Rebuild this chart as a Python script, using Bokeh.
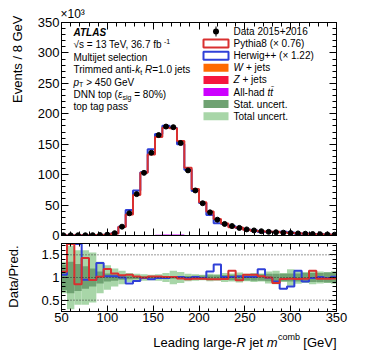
import numpy as np
from bokeh.plotting import figure
from bokeh.layouts import column, row
from bokeh.models import Range1d, LinearAxis, Label, Span, FixedTicker, BoxAnnotation
from bokeh.embed import file_html
from bokeh.resources import INLINE

# ---------------- data (events in units of 10^3) ----------------
mass_centers = [52, 60, 68, 76, 84, 92, 100, 108, 116, 124, 132, 140, 148, 156, 164, 172,
                180, 188, 196, 204, 212, 220, 228, 236, 244, 252, 260, 268, 276, 284, 292,
                300, 308, 316, 324, 332, 340, 348]
bin_width = 8
data = [0.35, 0.30, 0.35, 0.40, 0.50, 0.70, 1.4, 3.8, 14.5, 36.5, 68, 103, 136, 165, 179, 178,
        152, 107, 74, 53, 38, 26, 19, 15.5, 12.5, 10.0, 8.3, 7.0, 6.0, 5.3, 4.7,
        4.0, 3.4, 2.9, 2.4, 2.1, 1.7, 1.4]
pythia = [0.31, 0.15, 0.41, 0.28, 0.53, 0.69, 1.18, 3.49, 13.8, 34.4, 66.7, 103, 133.3, 161.8, 177.2, 176.2,
          155.1, 111.5, 76.3, 54.6, 39.6, 27.1, 19.6, 13.5, 13.3, 9.43, 7.83, 6.80, 6.00, 6.02, 4.85,
          4.12, 3.51, 2.99, 2.09, 2.16, 1.75, 1.43]
herwig = [0.33, 0.15, 0.17, 0.42, 0.53, 0.53, 1.36, 3.69, 14.5, 42.0, 73.9, 104, 141.7, 166.7, 180.5, 176.5,
          150, 108, 73.3, 53.5, 33.6, 20.2, 18.8, 15.3, 12.25, 9.9, 8.2, 5.93, 6.05, 5.82, 6.27,
          5.0, 2.96, 3.19, 2.43, 2.08, 1.72, 1.38]
w_jets = [0, 0, 0.02, 0.05, 0.08, 0.06, 0.04, 0.03, 0.02, 0.02, 0.01, 0.01, 0.01, 0.01, 0.01, 0.01,
          0.01, 0.01, 0.01, 0, 0, 0, 0, 0, 0, 0, 0, 0, 0, 0, 0, 0, 0, 0, 0, 0, 0, 0]
z_jets = [0, 0, 0, 0.01, 0.02, 0.05, 0.04, 0.03, 0.02, 0.01, 0.01, 0.01, 0.01, 0, 0, 0,
          0, 0, 0, 0, 0, 0, 0, 0, 0, 0, 0, 0, 0, 0, 0, 0, 0, 0, 0, 0, 0, 0]
ttbar = [0, 0, 0, 0, 0, 0.01, 0.02, 0.05, 0.1, 0.2, 0.35, 0.6, 1.0, 1.4, 1.7, 1.8,
         1.5, 1.0, 0.6, 0.4, 0.3, 0.2, 0.15, 0.12, 0.1, 0.08, 0.07, 0.06, 0.05, 0.04, 0.04,
         0.03, 0.03, 0.02, 0.02, 0.02, 0.01, 0.01]
stat_unc = [0.28, 0.35, 0.30, 0.25, 0.20, 0.13, 0.09, 0.07, 0.05, 0.04, 0.035, 0.03, 0.03, 0.025, 0.025, 0.03,
            0.03, 0.035, 0.04, 0.045, 0.05, 0.05, 0.055, 0.06, 0.06, 0.065, 0.07, 0.07, 0.08, 0.08, 0.085,
            0.09, 0.09, 0.10, 0.10, 0.10, 0.11, 0.11]
total_unc = [0.35, 0.70, 0.60, 0.60, 0.55, 0.35, 0.27, 0.20, 0.15, 0.10, 0.08, 0.07, 0.06, 0.07, 0.10, 0.15,
             0.12, 0.08, 0.07, 0.06, 0.08, 0.07, 0.10, 0.09, 0.11, 0.08, 0.10, 0.09, 0.13, 0.15, 0.10,
             0.18, 0.14, 0.12, 0.15, 0.13, 0.12, 0.14]

x_ticks = [50, 100, 150, 200, 250, 300, 350]
x_minor = list(range(50, 351, 10))
y_ticks_main = [0, 50, 100, 150, 200, 250, 300, 350]
y_minor_main = list(range(0, 351, 10))
ratio_ticks = [0.5, 1.0, 1.5]
ratio_minor = [round(0.3 + 0.1 * i, 1) for i in range(15)]

FONT = "Liberation Sans"
RED = "#d93030"
BLUE = "#3040d8"
ORANGE = "#ff6a00"
ZRED = "#f5163f"
MAGENTA = "#cc00ff"
DARKG = "#6fa272"
LIGHTG = "#a8d6a8"

c = np.array(mass_centers, float)
lo = c - bin_width / 2
hi = c + bin_width / 2
edges = np.append(lo, hi[-1])
d = np.array(data)
py = np.array(pythia)
hw = np.array(herwig)


def step_vals(v):
    v = np.asarray(v, float)
    return np.append(v, v[-1])


def cfg_axis(ax, ticks, minor, major_in, minor_in, labels, size="13px"):
    ax.ticker = FixedTicker(ticks=ticks, minor_ticks=minor)
    ax.major_tick_in = major_in
    ax.major_tick_out = 0
    ax.minor_tick_in = minor_in
    ax.minor_tick_out = 0
    ax.axis_line_color = "black"
    ax.major_tick_line_color = "black"
    ax.minor_tick_line_color = "black"
    ax.axis_label = None
    if labels:
        ax.major_label_text_font = FONT
        ax.major_label_text_font_size = size
        ax.major_label_text_color = "black"
        ax.major_label_standoff = 2
    else:
        ax.major_label_text_font_size = "0px"
        ax.major_label_standoff = 0
        ax.major_label_overrides = {t: "" for t in ticks}


def lab(p, x, y, text, size, style="normal", align="left", baseline="middle", angle=0.0):
    p.add_layout(Label(x=x, y=y, x_units="screen", y_units="screen", text=text,
                       text_font=FONT, text_font_size=f"{size}px", text_font_style=style,
                       text_align=align, text_baseline=baseline, angle=angle, text_color="black"))


def box(p, l, r, b, t, fill, line=None, lw=1, radius=0):
    p.add_layout(BoxAnnotation(left=l, right=r, bottom=b, top=t, left_units="screen",
                               right_units="screen", bottom_units="screen", top_units="screen",
                               fill_color=fill, fill_alpha=1.0,
                               line_color=line, line_alpha=1.0, line_width=lw,
                               border_radius=radius))


def blank(w, h):
    f = figure(width=w, height=h, x_range=Range1d(0, 1), y_range=Range1d(0, 1),
               output_backend="svg", toolbar_location=None, x_axis_location=None,
               y_axis_location=None, min_border=0, outline_line_color=None)
    f.grid.grid_line_color = None
    return f


LEFTPAD = 28
BL, BR = 33, 30
FW = 275

# ---------------- main panel ----------------
p1 = figure(frame_width=FW, frame_height=213, x_range=Range1d(50, 350), y_range=Range1d(0, 350),
            output_backend="svg", toolbar_location=None,
            min_border_left=BL, min_border_right=BR, min_border_top=22, min_border_bottom=8)
p1.title.text = "×10³"
p1.title.align = "left"
p1.title.offset = -1
p1.title.standoff = 3
p1.title.text_font = FONT
p1.title.text_font_size = "12px"
p1.title.text_font_style = "normal"
p1.title.text_color = "black"
p1.xgrid.grid_line_color = None
p1.ygrid.grid_line_color = None
p1.outline_line_color = "black"
p1.add_layout(LinearAxis(), "above")
p1.add_layout(LinearAxis(), "right")
cfg_axis(p1.below[0], x_ticks, x_minor, 7, 4, False)
cfg_axis(p1.above[0], x_ticks, x_minor, 7, 4, False)
cfg_axis(p1.left[0], y_ticks_main, y_minor_main, 7, 4, True)
cfg_axis(p1.right[0], y_ticks_main, y_minor_main, 7, 4, False)

zj = np.array(z_jets)
wj = np.array(w_jets)
tt = np.array(ttbar)
p1.quad(left=lo, right=hi, bottom=0, top=zj, fill_color=ZRED, line_color=None)
p1.quad(left=lo, right=hi, bottom=zj, top=zj + wj, fill_color=ORANGE, line_color=None)
p1.quad(left=lo, right=hi, bottom=zj + wj, top=zj + wj + tt, fill_color=MAGENTA, line_color=None)
p1.step(x=edges, y=step_vals(hw), mode="after", line_color=BLUE, line_width=2)
p1.step(x=edges, y=step_vals(py), mode="after", line_color=RED, line_width=2)
p1.scatter(x=c, y=d, size=5, color="black")

TS = 10
SS = 7
ax0 = 12
rows = [203.3, 190.7, 178.3, 165.7, 153.3, 141, 129]
lab(p1, ax0, rows[0], "ATLAS", TS, style="bold italic")
lab(p1, ax0, rows[1], "√s = 13 TeV, 36.7 fb", TS)
lab(p1, ax0 + 90.5, rows[1] + 3.5, "-1", SS)
lab(p1, ax0, rows[2], "Multijet selection", TS)
lab(p1, ax0, rows[3], "Trimmed anti-", TS)
lab(p1, ax0 + 61.7, rows[3], "k", TS, style="italic")
lab(p1, ax0 + 66.7, rows[3] - 2.5, "t", SS)
lab(p1, ax0 + 71.5, rows[3], "R", TS, style="italic")
lab(p1, ax0 + 78.7, rows[3], "=1.0 jets", TS)
lab(p1, ax0, rows[4], "p", TS, style="italic")
lab(p1, ax0 + 5.6, rows[4] - 2.5, "T", SS)
lab(p1, ax0 + 12.7, rows[4], "> 450 GeV", TS)
lab(p1, ax0, rows[5], "DNN top (", TS)
lab(p1, ax0 + 44.5, rows[5], "ε", TS, style="italic")
lab(p1, ax0 + 49, rows[5] - 2.5, "sig", SS)
lab(p1, ax0 + 60.7, rows[5], "= 80%)", TS)
lab(p1, ax0, rows[6], "top tag pass", TS)

# legend
lx0, lx1, ltx = 142, 167, 172
lrows = [204, 191.9, 179.8, 167.7, 155.6, 143.5, 131.4, 119.3]
LS = 10
box(p1, 154, 155, lrows[0] - 5, lrows[0] + 5, "black", None)
box(p1, 151.5, 157.5, lrows[0] - 3, lrows[0] + 3, "black", None, radius=3)
lab(p1, ltx, lrows[0], "Data 2015+2016", LS)
box(p1, lx0, lx1, lrows[1] - 4, lrows[1] + 4, "white", RED, 2)
lab(p1, ltx, lrows[1], "Pythia8 (× 0.76)", LS)
box(p1, lx0, lx1, lrows[2] - 4, lrows[2] + 4, "white", BLUE, 2)
lab(p1, ltx, lrows[2], "Herwig++ (× 1.22)", LS)
box(p1, lx0, lx1, lrows[3] - 4, lrows[3] + 4, ORANGE, None)
lab(p1, ltx, lrows[3], "W", LS, style="italic")
lab(p1, ltx + 12.5, lrows[3], "+ jets", LS)
box(p1, lx0, lx1, lrows[4] - 4, lrows[4] + 4, ZRED, None)
lab(p1, ltx, lrows[4], "Z", LS, style="italic")
lab(p1, ltx + 9, lrows[4], "+ jets", LS)
box(p1, lx0, lx1, lrows[5] - 4, lrows[5] + 4, MAGENTA, None)
lab(p1, ltx, lrows[5], "All-had", LS)
lab(p1, ltx + 34, lrows[5], "tt\u0304", LS, style="italic")
box(p1, lx0, lx1, lrows[6] - 4, lrows[6] + 4, DARKG, None)
lab(p1, ltx, lrows[6], "Stat. uncert.", LS)
box(p1, lx0, lx1, lrows[7] - 4, lrows[7] + 4, LIGHTG, None)
lab(p1, ltx, lrows[7], "Total uncert.", LS)

# ---------------- ratio panel ----------------
p2 = figure(frame_width=FW, frame_height=68, x_range=p1.x_range, y_range=Range1d(0.25, 1.75),
            output_backend="svg", toolbar_location=None,
            min_border_left=BL, min_border_right=BR, min_border_top=0, min_border_bottom=18)
p2.xgrid.grid_line_color = None
p2.ygrid.grid_line_color = None
p2.outline_line_color = "black"
p2.add_layout(LinearAxis(), "above")
p2.add_layout(LinearAxis(), "right")
cfg_axis(p2.below[0], x_ticks, x_minor, 6, 3, True)
p2.below[0].major_label_standoff = 1
cfg_axis(p2.above[0], x_ticks, x_minor, 6, 3, False)
cfg_axis(p2.left[0], ratio_ticks, ratio_minor, 7, 4, True)
cfg_axis(p2.right[0], ratio_ticks, ratio_minor, 7, 4, False)

tu = np.array(total_unc)
su = np.array(stat_unc)
p2.quad(left=lo, right=hi, bottom=1 - tu, top=1 + tu, fill_color=LIGHTG, line_color=None)
p2.quad(left=lo, right=hi, bottom=1 - su, top=1 + su, fill_color=DARKG, line_color=None)
for yv in ratio_ticks:
    p2.add_layout(Span(location=yv, dimension="width", line_color="#333333", line_dash="1 2",
                       line_width=1))
r_hw = np.minimum(d / hw, 1.74)
r_py = np.minimum(d / py, 1.74)
p2.step(x=edges, y=step_vals(r_hw), mode="after", line_color=BLUE, line_width=2)
p2.step(x=edges, y=step_vals(r_py), mode="after", line_color=RED, line_width=2)

# left strip holding the rotated y titles
TOP_H = 243 + 86
yl = blank(LEFTPAD, TOP_H)
lab(yl, 16.7, TOP_H - 15, "Events / 8 GeV", 13, align="right", angle=np.pi / 2)
lab(yl, 13.3, TOP_H - 245, "Data/Pred.", 13, align="right", angle=np.pi / 2)

# x title strip spanning the full page width (page coordinates)
PAGE_W = LEFTPAD + BL + FW + BR
p3 = blank(PAGE_W, 30)
ty = 17.3
lab(p3, 152.8, ty, "Leading large-", 13)
lab(p3, 235.9, ty, "R", 13, style="italic")
lab(p3, 248.9, ty, "jet", 13)
lab(p3, 266.3, ty, "m", 13, style="italic")
lab(p3, 277.5, ty + 5, "comb", 9)
lab(p3, 336, ty, "[GeV]", 13, align="right")

layout = column(row(yl, column(p1, p2)), p3)
open("out.html", "w").write(file_html(layout, INLINE))
